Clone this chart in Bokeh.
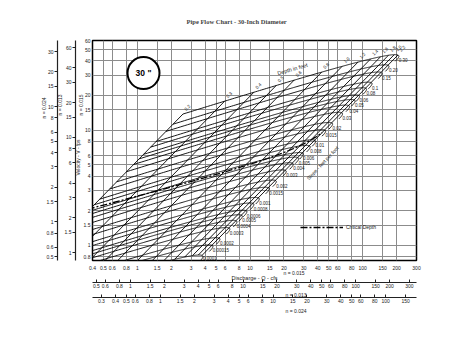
import numpy as np
from bokeh.plotting import figure
from bokeh.models import (Range1d, LogAxis, LogScale, FixedTicker, CustomJSTickFormatter,
                          Legend, LegendItem, Title)
from bokeh.embed import file_html
from bokeh.resources import INLINE
from bokeh.core.properties import value

# ---------------- chart data ----------------
pipe_diameter_ft = 2.5
n_main = 0.015
n_alt_a = 0.013
n_alt_b = 0.024
gravity = 32.2
manning_k = 1.486

slopes = [0.0001, 0.00015, 0.0002, 0.0003, 0.0004, 0.0005, 0.0006, 0.0008,
          0.001, 0.0015, 0.002, 0.003, 0.004, 0.005, 0.006, 0.008,
          0.01, 0.015, 0.02, 0.03, 0.04, 0.05, 0.06, 0.08, 0.1, 0.15, 0.20, 0.30]
slope_labels = ["0.0001", "0.00015", "0.0002", "0.0003", "0.0004", "0.0005", "0.0006", "0.0008",
                "0.001", "0.0015", "0.002", "0.003", "0.004", "0.005", "0.006", "0.008",
                "0.01", "0.015", "0.02", "0.03", "0.04", "0.05", "0.06", "0.08", "0.1", "0.15", "0.20", "0.30"]
depths = [0.2, 0.3, 0.4, 0.5, 0.6, 0.8, 1.0, 1.2, 1.4, 1.6, 1.8, 2.0, 2.2]
depth_labels = ["0.2", "0.3", "0.4", "0.5", "0.6", "0.8", "1.0", "1.2", "1.4", "1.6", "1.8", "2.0", "2.2"]
critical_depth_span = [0.15, 2.2]

x_ticks = [0.4, 0.5, 0.6, 0.8, 1, 1.5, 2, 3, 4, 5, 6, 8, 10, 15, 20, 30, 40, 50, 60, 80, 100, 150, 200, 300]
y_ticks = [0.8, 1, 1.5, 2, 3, 4, 5, 6, 8, 10, 15, 20, 30, 40, 50, 60]
x_ticks_013 = [0.5, 0.6, 0.8, 1, 1.5, 2, 3, 4, 5, 6, 8, 10, 15, 20, 30, 40, 50, 60, 80, 100, 150, 200, 300]
x_ticks_024 = [0.3, 0.4, 0.5, 0.6, 0.8, 1, 1.5, 2, 3, 4, 5, 6, 8, 10, 15, 20, 30, 40, 50, 60, 80, 100, 150]
y_ticks_013 = [1, 1.5, 2, 3, 4, 6, 8, 10, 15, 20, 30, 40, 60]
y_ticks_024 = [0.5, 0.6, 0.8, 1, 1.5, 2, 3, 4, 5, 6, 8, 10, 15, 20, 30]

q_range = (0.4, 300)
v_range = (0.74, 60)

FONT = "Liberation Sans"
INK = "#222222"


# ---------------- Manning relations for a circular pipe ----------------
def section(y):
    y = np.asarray(y, dtype=float)
    theta = 2 * np.arccos(1 - 2 * y / pipe_diameter_ft)
    area = pipe_diameter_ft ** 2 / 8 * (theta - np.sin(theta))
    perim = pipe_diameter_ft * theta / 2
    top = pipe_diameter_ft * np.sin(theta / 2)
    return area, area / perim, top


def manning(y, s):
    a, r, _ = section(y)
    v = manning_k / n_main * r ** (2.0 / 3.0) * np.sqrt(s)
    return v * a, v


# slope curves (constant S, depth varies up to full pipe)
depth_sweep = np.linspace(depths[0], pipe_diameter_ft, 300)
slope_xs, slope_ys = [], []
for s in slopes:
    q, v = manning(depth_sweep, s)
    slope_xs.append(list(q))
    slope_ys.append(list(v))

# depth lines (constant depth, slope varies)
depth_xs, depth_ys = [], []
for d in depths:
    q, v = manning([d, d], [slopes[0], slopes[-1]])
    depth_xs.append(list(q))
    depth_ys.append(list(v))

# critical depth
crit_y = np.linspace(critical_depth_span[0], critical_depth_span[1], 120)
a_c, _, t_c = section(crit_y)
v_crit = np.sqrt(gravity * a_c / t_c)
q_crit = v_crit * a_c

f013 = n_main / n_alt_a
f024 = n_main / n_alt_b

p = figure(width=463, height=358, x_axis_type="log", y_axis_type="log",
           x_range=Range1d(*q_range), y_range=Range1d(*v_range),
           output_backend="svg", toolbar_location=None,
           min_border_left=92, min_border_right=47, min_border_top=37, min_border_bottom=98,
           title="Pipe Flow Chart - 30-Inch Diameter")

p.title.align = "left"
p.title.offset = 94
p.title.text_font = "Liberation Serif"
p.title.text_font_style = "bold"
p.title.text_font_size = "6.5px"
p.title.standoff = 31

p.outline_line_color = "black"
p.outline_line_width = 1.5
p.background_fill_color = "white"
p.border_fill_color = "white"

p.xgrid.ticker = FixedTicker(ticks=x_ticks, minor_ticks=[])
p.ygrid.ticker = FixedTicker(ticks=y_ticks, minor_ticks=[])
for g in (p.xgrid, p.ygrid):
    g.grid_line_color = "#8c8c8c"
    g.grid_line_width = 1
    g.minor_grid_line_color = None


def tick_fmt():
    return CustomJSTickFormatter(code="return String(tick);")


# main x axis
xa = p.xaxis[0]
xa.ticker = FixedTicker(ticks=x_ticks, minor_ticks=[])
xa.formatter = tick_fmt()
xa.major_tick_out = 0
xa.major_tick_in = 0
xa.minor_tick_line_color = None
xa.axis_line_color = None
xa.major_label_standoff = 5
xa.major_label_text_font = FONT
xa.major_label_text_font_size = "5px"
xa.major_label_text_color = INK

# main y axis
ya = p.yaxis[0]
ya.ticker = FixedTicker(ticks=y_ticks, minor_ticks=[])
ya.formatter = tick_fmt()
ya.major_tick_out = 0
ya.major_tick_in = 0
ya.minor_tick_line_color = None
ya.axis_line_color = None
ya.major_label_standoff = 2
ya.major_label_text_font = FONT
ya.major_label_text_font_size = "5px"
ya.major_label_text_color = INK

p.extra_x_ranges = {"q013": Range1d(q_range[0] * f013, q_range[1] * f013),
                    "q024": Range1d(q_range[0] * f024, q_range[1] * f024)}
p.extra_y_ranges = {"v013": Range1d(v_range[0] * f013, v_range[1] * f013),
                    "v024": Range1d(v_range[0] * f024, v_range[1] * f024)}
p.extra_x_scales = {"q013": LogScale(), "q024": LogScale()}
p.extra_y_scales = {"v013": LogScale(), "v024": LogScale()}


def style_axis(ax, tick_in, tick_out, standoff):
    ax.formatter = tick_fmt()
    ax.major_tick_in = tick_in
    ax.major_tick_out = tick_out
    ax.major_tick_line_color = INK
    ax.minor_tick_line_color = None
    ax.axis_line_color = INK
    ax.axis_line_width = 1.2
    ax.major_label_standoff = standoff
    ax.major_label_text_font = FONT
    ax.major_label_text_font_size = "5px"
    ax.major_label_text_color = INK


def side_title(text, align_offset, standoff, valign="bottom", align="left", size="5px"):
    return Title(text=text, align=align, offset=align_offset, standoff=standoff,
                 vertical_align=valign,
                 text_font=FONT, text_font_size=size, text_font_style="normal",
                 text_color=INK)


# left side: n = 0.015 note and velocity title, then the n = 0.013 and n = 0.024 scales
p.add_layout(side_title("n = 0.015", 145, -10, "middle"), "left")
p.add_layout(side_title("Velocity - V - fps", 85, -3, "middle"), "left")
ax_v013 = LogAxis(y_range_name="v013", ticker=FixedTicker(ticks=y_ticks_013, minor_ticks=[]))
style_axis(ax_v013, 0, 3, 1)
p.add_layout(ax_v013, "left")
p.add_layout(side_title("n = 0.013", 145, -4, "middle"), "left")
ax_v024 = LogAxis(y_range_name="v024", ticker=FixedTicker(ticks=y_ticks_024, minor_ticks=[]))
style_axis(ax_v024, 0, 3, 1)
p.add_layout(ax_v024, "left")
p.add_layout(side_title("n = 0.024", 142, -8, "middle"), "left")

# bottom: n = 0.015 note, discharge title, then the n = 0.013 and n = 0.024 scales
p.add_layout(side_title("n = 0.015", 191, -10, "middle"), "below")
p.add_layout(side_title("Discharge - Q - cfs", 0, 2, "middle", "center", "5.5px"), "below")
ax_q013 = LogAxis(x_range_name="q013", ticker=FixedTicker(ticks=x_ticks_013, minor_ticks=[]))
style_axis(ax_q013, 3, 0, 1)
p.add_layout(ax_q013, "below")
p.add_layout(side_title("n = 0.013", 193, -1), "below")
ax_q024 = LogAxis(x_range_name="q024", ticker=FixedTicker(ticks=x_ticks_024, minor_ticks=[]))
style_axis(ax_q024, 3, 0, 1)
p.add_layout(ax_q024, "below")
p.add_layout(side_title("n = 0.024", 193, 0), "below")

# ---------------- nomograph lines ----------------
p.multi_line(xs=depth_xs, ys=depth_ys, line_color="black", line_width=0.9)
p.multi_line(xs=slope_xs, ys=slope_ys, line_color="black", line_width=0.9)
crit = p.line(x=list(q_crit), y=list(v_crit), line_color="black", line_width=1.3,
              line_dash="7 2 2 2")

# slope labels at the end of each curve (full pipe)
q_full, v_full = manning(np.full(len(slopes), pipe_diameter_ft), np.array(slopes))
v_lab = np.maximum(v_full, v_range[0] * 1.035)
p.text(x=list(q_full), y=list(v_lab), text=slope_labels,
       text_font=value(FONT), text_font_size="4.5px", text_color=INK,
       text_align="left", text_baseline="middle", x_offset=3.5, y_offset=-1)

# depth labels at the upper end of each depth line
q_top, v_top = manning(np.array(depths), slopes[-1])
p.text(x=list(q_top), y=list(v_top), text=depth_labels,
       text_font=value(FONT), text_font_size="4.5px", text_color=INK,
       text_align="left", text_baseline="middle", angle=np.pi / 4,
       x_offset=2, y_offset=-4.5)

p.text(x=[23.8], y=[33.9], text=["Depth in feet"], text_font=value(FONT),
       text_font_size="5.5px", text_color=INK, text_align="center",
       text_baseline="middle", angle=0.28)
p.text(x=[44.0], y=[5.2], text=["Slope - feet per foot"], text_font=value(FONT),
       text_font_size="5px", text_color=INK, text_align="center",
       text_baseline="middle", angle=0.82)

# pipe size badge
p.scatter(x=[1.134], y=[31.3], marker="circle", size=32, fill_color="white",
          line_color="black", line_width=2)
p.text(x=[1.134], y=[31.3], text=['30 "'], text_font=value(FONT), text_font_size="8.5px",
       text_font_style="bold", text_color="black", text_align="center", text_baseline="middle")

legend = Legend(items=[LegendItem(label="Critical Depth", renderers=[crit])],
                location=(208, 29), glyph_width=43, glyph_height=8, label_height=8,
                label_standoff=3, padding=0, margin=0, spacing=0,
                border_line_color=None, background_fill_alpha=0,
                label_text_font=FONT, label_text_font_size="5px", label_text_color=INK)
p.add_layout(legend)

open("out.html", "w").write(file_html(p, INLINE))
